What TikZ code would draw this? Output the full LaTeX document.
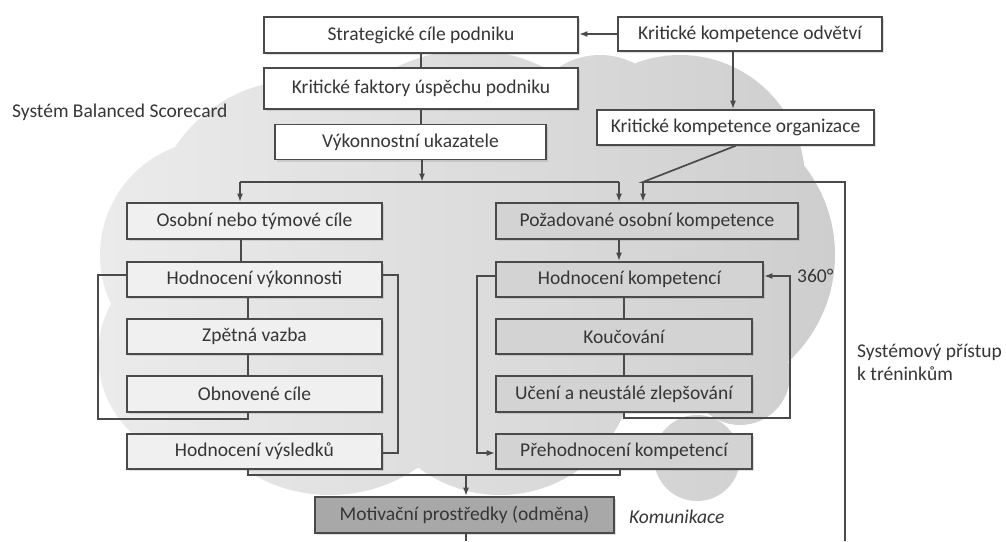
\documentclass[tikz,border=0pt]{standalone}
\usepackage{fontspec}
\setmainfont{Carlito}
\usetikzlibrary{arrows.meta,shadows,calc}
\definecolor{bord}{HTML}{4A4A4A}
\definecolor{txt}{HTML}{363636}
\definecolor{cloudL}{HTML}{ECECEC}
\definecolor{cloudR}{HTML}{CDCDCD}
\definecolor{leftfill}{HTML}{F0F0F0}
\definecolor{rightfill}{HTML}{D3D3D3}
\definecolor{motfill}{HTML}{A8A8A8}
\tikzset{
  box/.style={draw=bord, line width=1.7pt, inner sep=0pt, text=txt,
    font=\fontsize{19.5}{23}\selectfont,
    drop shadow={shadow xshift=2pt, shadow yshift=-2pt, opacity=0.25}},
  topbox/.style={box, fill=white},
  lbox/.style={box, fill=leftfill, minimum width=255pt},
  rbox/.style={box, fill=rightfill},
  mbox/.style={box, fill=motfill},
  conn/.style={draw=bord, line width=1.7pt},
  arr/.style={conn, -{Latex[length=8.5pt,width=6pt]}},
  lbl/.style={text=txt, inner sep=0pt, font=\fontsize{19.5}{23}\selectfont}
}
\begin{document}
\begin{tikzpicture}[x=1pt,y=-1pt]
\useasboundingbox (0,0) rectangle (1006,541);
% cloud background
\begin{scope}
\clip (300,230) circle[radius=150pt] (470,215) circle[radius=165pt]
      (600,130) circle[radius=75pt] (680,180) circle[radius=125pt]
      (690,255) circle[radius=145pt] (215,255) circle[radius=115pt]
      (205,355) circle[radius=107pt] (330,340) circle[radius=155pt]
      (500,360) circle[radius=135pt] (697,458) circle[radius=43pt]
      (740,375) circle[radius=50pt];
\shade[left color=cloudL, right color=cloudR] (80,30) rectangle (860,520);
\end{scope}
% nodes
\node[topbox, minimum width=314pt, minimum height=36pt] (b1) at (421,35) {Strategické cíle podniku};
\node[topbox, minimum width=314pt, minimum height=41pt] (b2) at (421,88.5) {Kritické faktory úspěchu podniku};
\node[topbox, minimum width=271pt, minimum height=35pt] (b3) at (410.5,142) {Výkonnostní ukazatele};
\node[topbox, minimum width=264pt, minimum height=34pt] (b4) at (750,34) {Kritické kompetence odvětví};
\node[topbox, minimum width=277pt, minimum height=35pt] (b5) at (735.5,127.5) {Kritické kompetence organizace};
\node[lbox, minimum height=36pt] (b6) at (254.5,221) {Osobní nebo týmové cíle};
\node[lbox, minimum height=35pt] (b7) at (254.5,279.5) {Hodnocení výkonnosti};
\node[lbox, minimum height=35pt] (b8) at (254.5,336.5) {Zpětná vazba};
\node[lbox, minimum height=36pt] (b9) at (254.5,394) {Obnovené cíle};
\node[lbox, minimum height=35pt] (b10) at (254.5,451.5) {Hodnocení výsledků};
\node[rbox, minimum width=302pt, minimum height=36pt] (b11) at (647,221) {Požadované osobní kompetence};
\node[rbox, minimum width=267pt, minimum height=35pt] (b12) at (629.5,279.5) {Hodnocení kompetencí};
\node[rbox, minimum width=256pt, minimum height=35pt] (b13) at (624,336.5) {Koučování};
\node[rbox, minimum width=256pt, minimum height=36pt] (b14) at (624,394) {Učení a neustálé zlepšování};
\node[rbox, minimum width=256pt, minimum height=35pt] (b15) at (624,451.5) {Přehodnocení kompetencí};
\node[mbox, minimum width=299pt, minimum height=36pt] (b16) at (464.5,515) {Motivační prostředky (odměna)};
% labels
\node[lbl, anchor=west] (sbs) at (12,112) {Systém Balanced Scorecard};
\node[lbl, anchor=west] (l360) at (797,276) {360°};
\node[lbl, anchor=west, align=left] (sys) at (857,362) {Systémový přístup\\k tréninkům};
\node[lbl, anchor=west, font=\fontsize{19.5}{23}\selectfont\itshape] (kom) at (629,517) {Komunikace};
% coordinates
\coordinate (j1) at (422,182);
\coordinate (jL) at (240,182);
\coordinate (jR) at (619,182);
\coordinate (jO) at (643,182);
\coordinate (jS) at (845,182);
\coordinate (jSb) at (845,541);
\coordinate (k45) at (733,100);
\coordinate (kL1) at (241,250);
\coordinate (kL2) at (248,300);
\coordinate (cLM) at (248,419);
\coordinate (cLLb) at (98,419);
\coordinate (cLL) at (98,275);
\coordinate (cLR) at (398,275);
\coordinate (cLRb) at (398,453);
\coordinate (cB1) at (248,475);
\coordinate (cB2) at (620,475);
\coordinate (cB3) at (466,475);
\coordinate (cBot) at (466,541);
\coordinate (kR) at (624,300);
\coordinate (cU) at (624,418);
\coordinate (c360b) at (790,418);
\coordinate (c360) at (790,276);
\coordinate (cRL) at (477,276);
\coordinate (cRLb) at (477,453);
% connectors top
\draw[arr] (b4.west) -- (b4.west -| b1.east);
\draw[conn] (b1.south) -- (b2.north);
\draw[conn] (b2.south) -- (b2.south |- b3.north);
\draw[arr] (b3.south -| j1) -- (j1);
\draw[conn] (jL) -- (jR);
\draw[arr] (jL) -- (jL |- b6.north);
\draw[arr] (jR) -- (jR |- b11.north);
\draw[arr] (b4.south -| k45) -- (k45 |- b5.north);
\draw[conn] (b5.south) -- (jO) -- (jS) -- (jSb);
\draw[arr] (jO) -- (jO |- b11.north);
% left column
\draw[conn] (b6.south -| kL1) -- (kL1 |- b7.north);
\draw[conn] (b7.south -| kL2) -- (kL2 |- b8.north);
\draw[conn] (b8.south -| kL2) -- (kL2 |- b9.north);
\draw[conn] (b9.south -| kL2) -- (cLM) -- (cLLb) -- (cLL) -- (cLL -| b7.west);
\draw[conn] (b7.east |- cLR) -- (cLR) -- (cLRb) -- (cLRb -| b10.east);
\draw[conn] (b10.south -| kL2) -- (cB1) -- (cB2) -- (cB2 |- b15.south);
\draw[arr] (cB3) -- (cB3 |- b16.north);
\draw[conn] (b16.south -| cB3) -- (cBot);
% right column
\draw[arr] (b11.south -| jR) -- (jR |- b12.north);
\draw[conn] (b12.south -| kR) -- (kR |- b13.north);
\draw[conn] (b13.south) -- (b14.north);
\draw[arr] (b14.south) -- (cU) -- (c360b) -- (c360) -- (c360 -| b12.east);
\draw[arr] (b12.west |- cRL) -- (cRL) -- (cRLb) -- (cRLb -| b15.west);
\end{tikzpicture}
\end{document}
